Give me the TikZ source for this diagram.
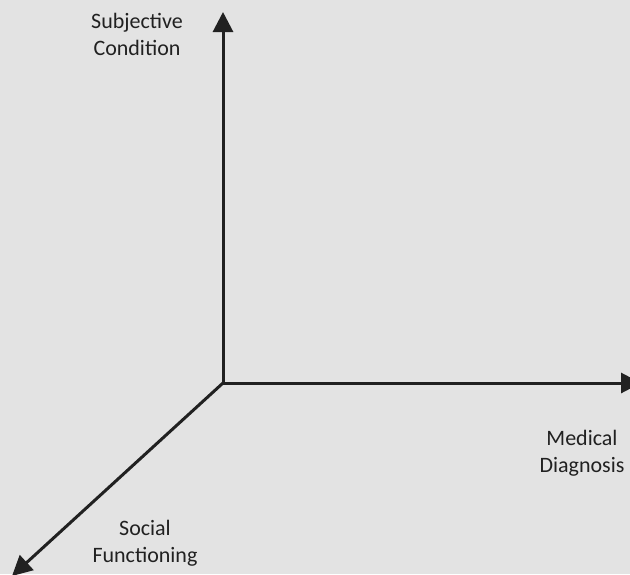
\documentclass[tikz,border=0pt]{standalone}
\usepackage{fontspec}
\setmainfont{Carlito}
\usepackage{xcolor}
\usepackage{tikz}
\usetikzlibrary{arrows.meta,positioning}

\definecolor{bggray}{RGB}{227,227,227}
\definecolor{axisgray}{RGB}{33,33,33}

\tikzset{
    axis/.style={line width=3pt, axisgray, -{Triangle[length=20pt,width=20pt]}},
    axislabel/.style={align=center, text=axisgray, font=\fontsize{22}{26.5}\selectfont, anchor=base}
}

\begin{document}
\begin{tikzpicture}[x=1pt, y=-1pt]

% Background panel
\fill[bggray] (0,0) rectangle (630,574);
\useasboundingbox (0,0) rectangle (630,574);

% Origin and axis end points
\coordinate (O) at (223,383);
\coordinate (Ytip) at (223,12);
\coordinate (Xtip) at (641,383);
\coordinate (Ztip) at (12,576);

% The three axes
\draw[axis] (O) -- (Ytip);
\draw[axis] (O) -- (Xtip);
\draw[axis] (O) -- (Ztip);

% Axis labels (base anchor sits on the last line)
\node[axislabel] (subj) at (137,55) {Subjective\\Condition};
\node[axislabel] (med) at (582,472) {Medical\\Diagnosis};
\node[axislabel] (soc) at (145,562) {Social\\Functioning};

\end{tikzpicture}
\end{document}
